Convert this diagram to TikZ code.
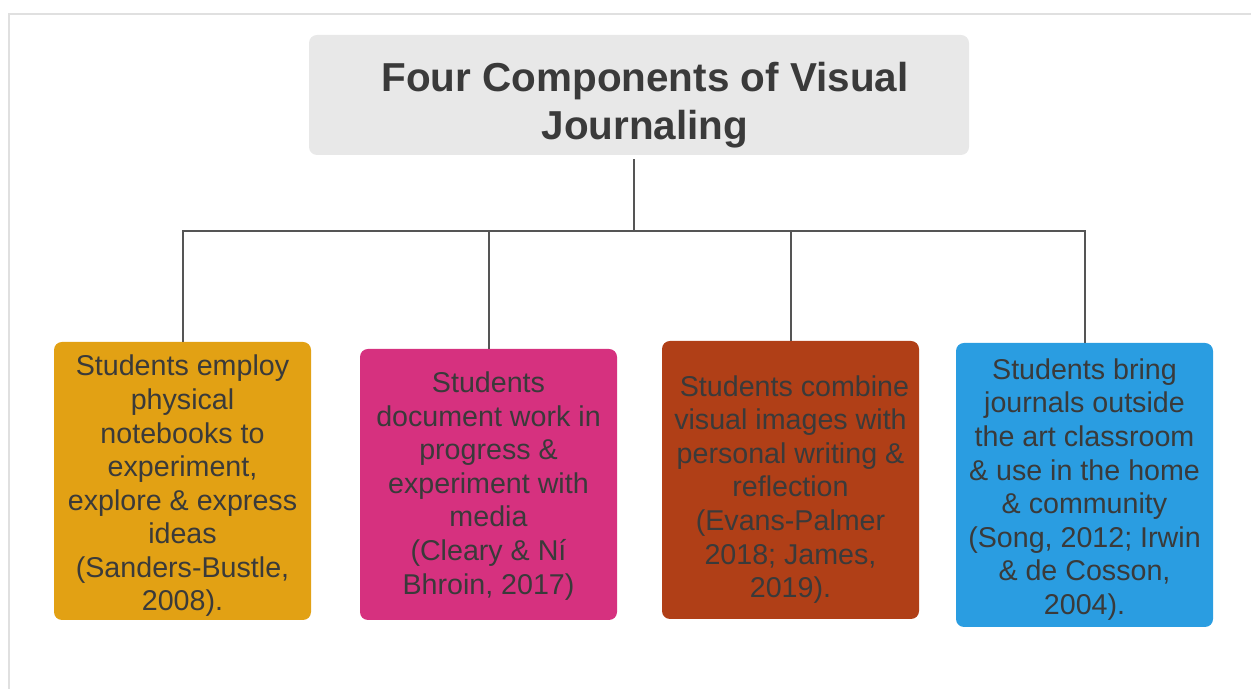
\documentclass[tikz,border=0pt]{standalone}
\usepackage{fontspec}
\setmainfont{Liberation Sans}
\usepackage{tikz}
\definecolor{titlegray}{HTML}{E8E8E8}
\definecolor{textgray}{HTML}{3A3A3A}
\definecolor{linegray}{HTML}{555555}
\definecolor{framegray}{HTML}{E0E0E0}
\definecolor{jorange}{HTML}{E2A114}
\definecolor{jpink}{HTML}{D6317F}
\definecolor{jrust}{HTML}{B03F17}
\definecolor{jblue}{HTML}{2A9DE1}

\begin{document}
\begin{tikzpicture}[
	comp/.style={rounded corners=0.16cm, minimum width=5.14cm, inner sep=0pt},
	comptext/.style={align=center, text=textgray, inner sep=0pt, font=\fontsize{16.3}{19.1}\selectfont},
	conn/.style={linegray, line width=0.04cm},
	]
	\useasboundingbox (0,0) rectangle (25.02,13.78);
	% frame
	\draw [framegray, line width=0.04cm] (25.02,13.5) -- (0.18,13.5) -- (0.18,0);

	% title
	\node [fill=titlegray, rounded corners=0.16cm, minimum width=13.2cm, minimum height=2.4cm] (title) at (12.78,11.88) {};
	\node [align=center, text=textgray, inner sep=0pt, font=\bfseries\fontsize{23}{27.3}\selectfont] (title-text) at ([xshift=0.12cm,yshift=-0.2cm]title.center) {Four Components of Visual\\Journaling};

	% components
	\node [comp, fill=jorange, minimum height=5.56cm] (employ) at (3.65,4.16) {};
	\node [comp, fill=jpink, minimum height=5.42cm] (document) at (9.77,4.09) {};
	\node [comp, fill=jrust, minimum height=5.56cm] (combine) at (15.81,4.18) {};
	\node [comp, fill=jblue, minimum height=5.68cm] (bring) at (21.69,4.08) {};

	% label
	\node [comptext] (employ-text) at ([yshift=-0.1cm]employ.center) {Students employ\\physical\\notebooks to\\experiment,\\explore \& express\\ideas\\(Sanders-Bustle,\\2008).};
	\node [comptext] (document-text) at ([yshift=-0.03cm]document.center) {Students\\document work in\\progress \&\\experiment with\\media\\(Cleary \& Ní\\Bhroin, 2017)};
	\node [comptext] (combine-text) at ([yshift=-0.19cm]combine.center) {\ Students combine\\visual images with\\personal writing \&\\reflection\\(Evans-Palmer\\2018; James,\\2019).};
	\node [comptext] (bring-text) at ([yshift=-0.09cm]bring.center) {Students bring\\journals outside\\the art classroom\\\& use in the home\\\& community\\(Song, 2012; Irwin\\\& de Cosson,\\2004).};

	% lines
	\coordinate (bus) at (12.68,9.16);
	\draw [conn] ([xshift=-0.1cm,yshift=-0.08cm]title.south) -- (bus);
	\foreach \n in {employ,document,combine,bring}
		\draw [conn] (bus) -| (\n.north);
\end{tikzpicture}
\end{document}
